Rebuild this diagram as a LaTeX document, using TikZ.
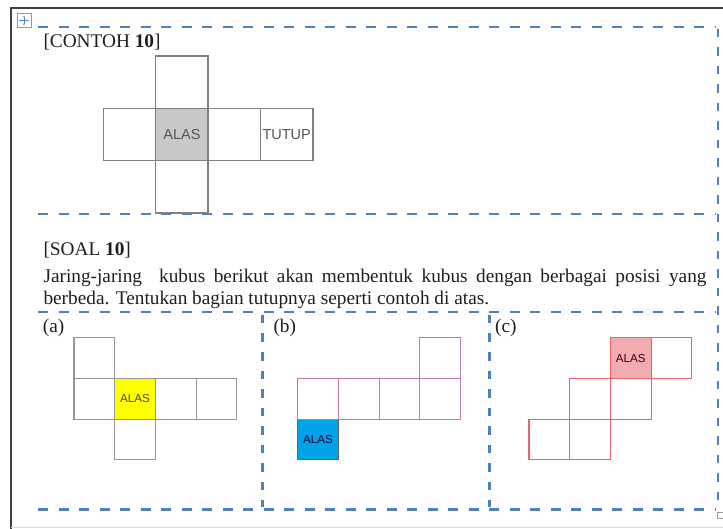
\documentclass[tikz,border=0pt]{standalone}
\usepackage{fontspec}
\setmainfont{Liberation Serif}
\setsansfont{Liberation Sans}
\usepackage{tikz}
\usetikzlibrary{arrows.meta, positioning}

\definecolor{dashblue}{RGB}{79,129,189}
\definecolor{framegray}{RGB}{64,64,64}
\definecolor{netgray}{RGB}{128,128,128}
\definecolor{lightgray}{RGB}{150,150,150}
\definecolor{alasgray}{RGB}{200,200,200}
\definecolor{labelgray}{RGB}{85,85,85}
\definecolor{alasyellow}{RGB}{255,255,0}
\definecolor{netpurple}{RGB}{190,120,175}
\definecolor{alasblue}{RGB}{0,162,232}
\definecolor{netred}{RGB}{228,100,112}
\definecolor{alasred}{RGB}{240,172,176}

\begin{document}
\begin{tikzpicture}[
        x=1pt, y=-1pt,
        node distance=0pt,
        hdash/.style={
            draw=dashblue,
            line width=2.2pt,
            dash pattern=on 10pt off 10.5pt
        },
        vdash/.style={
            draw=dashblue,
            line width=2.2pt,
            dash pattern=on 8.5pt off 10pt
        },
        textline/.style={
            anchor=base west,
            inner sep=0pt,
            text=black!88,
            font=\fontsize{19.3}{21.5}\selectfont
        },
        face/.style={
            rectangle,
            minimum size=52.4pt,
            inner sep=0pt,
            outer sep=0pt,
            draw=netgray,
            line width=1.4pt,
            text=labelgray,
            font=\sffamily\fontsize{14.5}{16}\selectfont
        },
        smallface/.style={
            face,
            minimum size=40.7pt,
            line width=1.2pt,
            font=\sffamily\fontsize{11.6}{13}\selectfont
        }
    ]
        \fill[white] (0,0) rectangle (723,529);
        \useasboundingbox (0,0) rectangle (723,529);

        % window frame and handles
        \draw[framegray, line width=2pt] (10.5,529) -- (10.5,8) -- (723,8);
        \draw[black!15, line width=1pt] (10.5,527.5) -- (723,527.5);
        \draw[black!40, fill=white, line width=0.6pt] (17,13.5) rectangle (31,27.5);
        \draw[dashblue, line width=0.9pt, {Stealth[length=2.2pt]}-{Stealth[length=2.2pt]}] (19,20.5) -- (29,20.5);
        \draw[dashblue, line width=0.9pt, {Stealth[length=2.2pt]}-{Stealth[length=2.2pt]}] (24,15.5) -- (24,25.5);
        \draw[black!40, fill=white, line width=0.6pt] (717,512) rectangle (724,518);

        % dashed boxes
        \draw[hdash] (38,27) -- (716,27);
        \draw[vdash] (718,29) -- (718,509);
        \draw[hdash] (38,214) -- (716,214);
        \draw[hdash] (38,312) -- (716,312);
        \draw[hdash] (38,509.5) -- (716,509.5);
        \draw[vdash] (262.5,315) -- (262.5,507);
        \draw[vdash] (489.5,315) -- (489.5,507);

        % texts
        \node (contoh) [textline] at (43.3,48) {[CONTOH \textbf{10}]};
        \node (soal) [textline] at (43.3,256) {[SOAL \textbf{10}]};
        \node (lineone) [textline] at (43.3,283) {\makebox[663pt][s]{Jaring-jaring\ \ kubus berikut akan membentuk kubus dengan berbagai posisi yang}};
        \node (linetwo) [textline] at (43.3,304.5) {berbeda. Tentukan bagian tutupnya seperti contoh di atas.};
        \node (labela) [textline] at (42.7,333) {(a)};
        \node (labelb) [textline] at (273.3,333) {(b)};
        \node (labelc) [textline] at (495,333) {(c)};

        % example net
        \node (alas) [face, fill=alasgray] at (181.9,134.6) {ALAS};
        \node (up) [face, above=of alas] {};
        \node (down) [face, below=of alas] {};
        \node (left) [face, left=of alas] {};
        \node (right) [face, right=of alas] {};
        \node (tutup) [face, right=of right] {TUTUP};

        % net (a)
        \node (alasa) [smallface, draw=lightgray, fill=alasyellow, text=black!70!yellow!60!black] at (135.05,398.75) {ALAS};
        \node (lefta) [smallface, draw=lightgray, left=of alasa] {};
        \node (upa) [smallface, draw=lightgray, above=of lefta] {};
        \node (downa) [smallface, draw=lightgray, below=of alasa] {};
        \node (righta) [smallface, draw=lightgray, right=of alasa] {};
        \node (farrighta) [smallface, draw=lightgray, right=of righta] {};

        % net (b)
        \node (alasb) [smallface, draw=netgray!80!black, fill=alasblue, text=black!75!blue] at (318.05,439.45) {ALAS};
        \node (oneb) [smallface, draw=netpurple, above=of alasb] {};
        \node (twob) [smallface, draw=netpurple, right=of oneb] {};
        \node (threeb) [smallface, draw=netpurple, right=of twob] {};
        \node (fourb) [smallface, draw=netpurple, right=of threeb] {};
        \node (upb) [smallface, draw=netpurple, above=of fourb] {};

        % net (c)
        \node (alasc) [smallface, draw=netred, fill=alasred, text=black!70!red] at (630.75,358.05) {ALAS};
        \node (rightc) [smallface, draw=netred, right=of alasc] {};
        \node (midc) [smallface, draw=netred, below=of alasc] {};
        \node (midleftc) [smallface, draw=netred, left=of midc] {};
        \node (lowc) [smallface, draw=netred, below=of midleftc] {};
        \node (lowleftc) [smallface, draw=netred, left=of lowc] {};

\end{tikzpicture}
\end{document}
